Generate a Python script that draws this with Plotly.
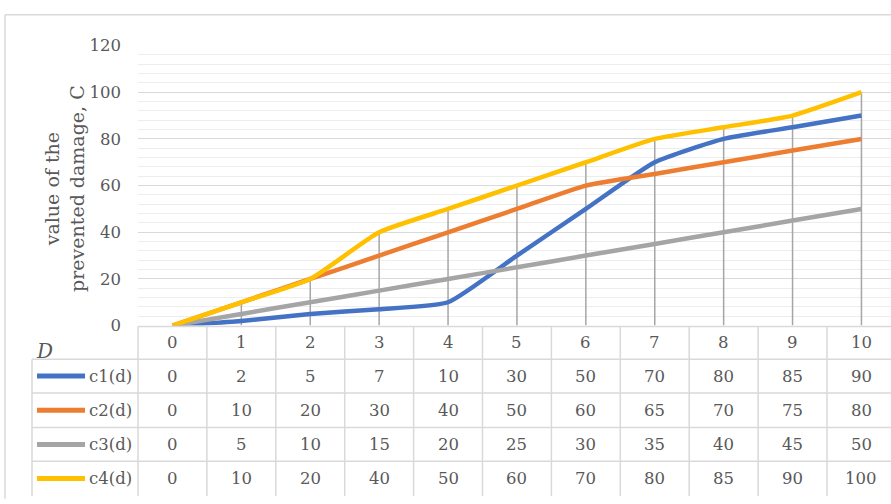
import plotly.graph_objects as go

# ---- data -------------------------------------------------------------
d_values = list(range(11))
c1 = [0, 2, 5, 7, 10, 30, 50, 70, 80, 85, 90]
c2 = [0, 10, 20, 30, 40, 50, 60, 65, 70, 75, 80]
c3 = [0, 5, 10, 15, 20, 25, 30, 35, 40, 45, 50]
c4 = [0, 10, 20, 40, 50, 60, 70, 80, 85, 90, 100]
series_names = ["c1(d)", "c2(d)", "c3(d)", "c4(d)"]
series_values = [c1, c2, c3, c4]
y_ticks = [0, 20, 40, 60, 80, 100, 120]
y_title = "value of the<br>prevented damage, C"
x_title = "D"

# ---- styling ----------------------------------------------------------
colors = ["#4472C4", "#ED7D31", "#A5A5A5", "#FFC000"]
text_color = "#595959"
grid_color = "#D9D9D9"
minor_grid_color = "#EDEDED"
drop_color = "#A6A6A6"
FONT = "DejaVu Serif"

W, H = 891, 504
PLOT_L, PLOT_T, PLOT_B = 138, 38, 329
COL_W = 68.9
X_RANGE = [-0.5, -0.5 + (W - PLOT_L) / COL_W]


def pxx(x):
    return x / W


def pxy(y):
    return (H - y) / H


fig = go.Figure()

# drop lines from the highest value down to the category axis
drop_x, drop_y = [], []
for i, d in enumerate(d_values):
    top = max(s[i] for s in series_values)
    drop_x += [d, d, None]
    drop_y += [0, top, None]
fig.add_trace(go.Scatter(x=drop_x, y=drop_y, mode="lines",
                         line=dict(color=drop_color, width=1.5),
                         hoverinfo="skip", showlegend=False))

for name, vals, col in zip(series_names, series_values, colors):
    fig.add_trace(go.Scatter(x=d_values, y=vals, name=name, mode="lines",
                             line=dict(color=col, width=4.5, shape="spline",
                                       smoothing=0.5),
                             showlegend=False))

shapes = []
annotations = []
line_style = dict(color=grid_color, width=1.5)

# outer chart border
shapes.append(dict(type="line", xref="paper", yref="paper",
                   x0=pxx(5), x1=pxx(5), y0=pxy(6), y1=pxy(H + 5), line=line_style))
shapes.append(dict(type="line", xref="paper", yref="paper",
                   x0=pxx(5), x1=pxx(W + 5), y0=pxy(6), y1=pxy(6), line=line_style))

# data table below the plot
row_edges = [330, 364, 399, 435, 470, 506]
col_left = PLOT_L
legend_left = 32
shapes.append(dict(type="line", xref="paper", yref="paper",
                   x0=pxx(col_left), x1=pxx(W + 5), y0=pxy(row_edges[0]), y1=pxy(row_edges[0]),
                   line=line_style))
for ry in row_edges[1:-1]:
    shapes.append(dict(type="line", xref="paper", yref="paper",
                       x0=pxx(legend_left), x1=pxx(W + 5), y0=pxy(ry), y1=pxy(ry),
                       line=line_style))
shapes.append(dict(type="line", xref="paper", yref="paper",
                   x0=pxx(legend_left), x1=pxx(legend_left),
                   y0=pxy(row_edges[1]), y1=pxy(row_edges[-1]), line=line_style))
for k in range(len(d_values)):
    cx = col_left + k * COL_W
    shapes.append(dict(type="line", xref="paper", yref="paper",
                       x0=pxx(cx), x1=pxx(cx),
                       y0=pxy(row_edges[0]), y1=pxy(row_edges[-1]), line=line_style))

cell_font = dict(family=FONT, size=16.5, color=text_color)
row_centers = [(a + b) / 2 for a, b in zip(row_edges[:-1], row_edges[1:])]

for d in d_values:
    annotations.append(dict(x=d, y=pxy(row_centers[0]), xref="x", yref="paper",
                            text=str(d), showarrow=False, font=cell_font,
                            xanchor="center", yanchor="middle"))

for r, (name, vals, col) in enumerate(zip(series_names, series_values, colors)):
    yc = row_centers[r + 1]
    shapes.append(dict(type="line", xref="paper", yref="paper",
                       x0=pxx(37), x1=pxx(85), y0=pxy(yc), y1=pxy(yc),
                       line=dict(color=col, width=5)))
    annotations.append(dict(x=pxx(134), y=pxy(yc), xref="paper", yref="paper",
                            text=name, showarrow=False, font=cell_font,
                            xanchor="right", yanchor="middle"))
    for d, v in zip(d_values, vals):
        annotations.append(dict(x=d, y=pxy(yc), xref="x", yref="paper",
                                text=str(v), showarrow=False, font=cell_font,
                                xanchor="center", yanchor="middle"))

# axis titles
annotations.append(dict(x=pxx(65), y=pxy(187), xref="paper", yref="paper",
                        text=y_title, textangle=-90, showarrow=False,
                        font=dict(family=FONT, size=19, color=text_color),
                        xanchor="center", yanchor="middle"))
annotations.append(dict(x=pxx(44), y=pxy(355), xref="paper", yref="paper",
                        text=x_title, showarrow=False,
                        font=dict(family=FONT, size=20, color=text_color, style="italic"),
                        xanchor="center", yanchor="middle"))

fig.update_layout(
    width=W, height=H,
    margin=dict(l=0, r=0, t=0, b=0),
    paper_bgcolor="white", plot_bgcolor="white",
    shapes=shapes, annotations=annotations,
    xaxis=dict(domain=[pxx(PLOT_L), 1], range=X_RANGE, showgrid=False,
               showticklabels=False, zeroline=False, showline=False, fixedrange=True),
    yaxis=dict(domain=[pxy(PLOT_B), pxy(PLOT_T)], range=[0, 120],
               tickvals=y_ticks, ticks="", ticklabelstandoff=16,
               tickfont=dict(family=FONT, size=16.5, color=text_color),
               showgrid=True, gridcolor=grid_color, gridwidth=1.3,
               minor=dict(dtick=4, showgrid=True, gridcolor=minor_grid_color, gridwidth=1),
               zeroline=False, showline=False, fixedrange=True),
)

# the page body keeps no default margin so the figure fills the window
fig.write_html("out.html", config={"displayModeBar": False},
               post_script="document.body.style.margin='0';")
